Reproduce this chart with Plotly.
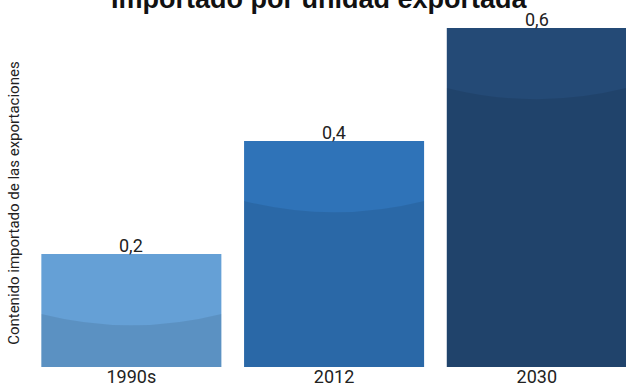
import plotly.graph_objects as go

categories = ["1990s", "2012", "2030"]
values = [0.2, 0.4, 0.6]
labels = ["0,2", "0,4", "0,6"]
colors = ["#65A0D6", "#2F73B8", "#244A76"]

title_text = "Importado por unidad exportada"
ytitle_text = "Contenido importado de las exportaciones"

NARROW = "Roboto, Liberation Sans Narrow, sans-serif"

x_pos = list(range(len(categories)))
bar_w = 0.888

fig = go.Figure()
fig.add_trace(go.Bar(
    x=x_pos, y=values, width=bar_w,
    marker=dict(color=colors, line=dict(width=0)),
    hoverinfo="skip",
))

# value labels just above the bars
for xi, v, lab in zip(x_pos, values, labels):
    fig.add_annotation(text=lab, x=xi, y=v, xref="x", yref="y",
                       xanchor="center", yanchor="bottom", yshift=-4,
                       showarrow=False,
                       font=dict(family=NARROW, size=18, color="#222222"))

# curved darker lower band on each bar
d_edge, d_ctrl = 0.106, 0.146
for xi, v in zip(x_pos, values):
    x0, x1 = xi - bar_w / 2, xi + bar_w / 2
    path = (f"M {x0},0 L {x0},{v - d_edge} Q {xi},{v - d_ctrl} {x1},{v - d_edge} "
            f"L {x1},0 Z")
    fig.add_shape(type="path", path=path, xref="x", yref="y",
                  fillcolor="rgba(0,0,0,0.09)", line=dict(width=0), layer="above")

fig.add_annotation(text=f"<b>{title_text}</b>", xref="paper", yref="paper",
                   x=0.485, y=1, xanchor="center", yanchor="bottom", yshift=-16,
                   showarrow=False,
                   font=dict(family="Liberation Sans, Arial, sans-serif", size=27, color="#111111"))
fig.add_annotation(text=ytitle_text, xref="paper", yref="paper",
                   x=-0.027, y=0.447, xanchor="center", yanchor="middle", textangle=-90,
                   showarrow=False,
                   font=dict(family=NARROW, size=15, color="#222222"))

fig.update_layout(
    width=626, height=387,
    margin=dict(l=30, r=0, t=0, b=20, autoexpand=False),
    paper_bgcolor="white", plot_bgcolor="white",
    showlegend=False,
    xaxis=dict(range=[-0.5, 2.44], tickvals=x_pos, ticktext=categories,
               automargin=False, ticklabelstandoff=-3,
               showgrid=False, zeroline=False, showline=False, ticks="",
               tickfont=dict(family=NARROW, size=18, color="#222222")),
    yaxis=dict(range=[0, 0.6496], showticklabels=False, showgrid=False,
               automargin=False,
               zeroline=False, showline=False, ticks=""),
)

fig.write_html("out.html")
